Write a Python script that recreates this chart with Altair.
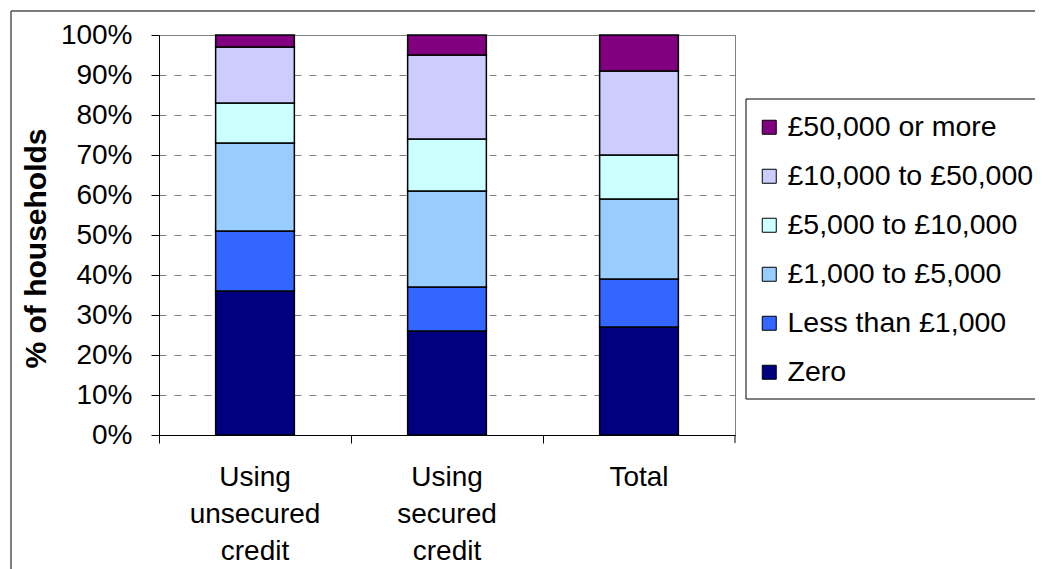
import altair as alt
import pandas as pd

categories = ["Using unsecured credit", "Using secured credit", "Total"]
bands = ["Zero", "Less than £1,000", "£1,000 to £5,000", "£5,000 to £10,000",
         "£10,000 to £50,000", "£50,000 or more"]
colors = ["#000080", "#3366FF", "#99CCFF", "#CCFFFF", "#CCCCFF", "#800080"]

zero = [36, 26, 27]
less_1k = [15, 11, 12]
k1_5 = [22, 24, 20]
k5_10 = [10, 13, 11]
k10_50 = [14, 21, 21]
k50_plus = [3, 5, 9]

series = [zero, less_1k, k1_5, k5_10, k10_50, k50_plus]
rows = []
for bi, (band, vals) in enumerate(zip(bands, series)):
    for ci, cat in enumerate(categories):
        rows.append({"category": cat, "band": band, "value": vals[ci], "order": bi})
df = pd.DataFrame(rows)

FONT = "Liberation Sans"
W, H = 576, 400

bars = alt.Chart(df).mark_bar(stroke="black", strokeWidth=1.5).encode(
    x=alt.X("category:N", sort=categories,
            scale=alt.Scale(paddingInner=0.59, paddingOuter=0.295),
            axis=alt.Axis(title=None, labelAngle=0, labelExpr="split(datum.label, ' ')",
                          labelFontSize=28, labelFont=FONT, labelColor="black",
                          labelLineHeight=37, labelPadding=20, labelBaseline="top",
                          tickSize=8, tickColor="black", bandPosition=-0.7195,
                          domainColor="black", grid=False)),
    y=alt.Y("value:Q", stack="zero",
            scale=alt.Scale(domain=[0, 100], nice=False),
            axis=alt.Axis(title="% of households", values=list(range(0, 101, 10)),
                          labelExpr="datum.value + '%'", labelFontSize=28, labelFont=FONT,
                          labelColor="black", labelPadding=19, tickSize=8, tickColor="black",
                          domainColor="black", grid=True, gridColor="#808080",
                          gridDash=[7, 8], gridWidth=1,
                          titleFont=FONT, titleFontSize=30, titleFontWeight="bold",
                          titleColor="black", titleX=-123, titleY=213,
                          titleAngle=270, titleBaseline="middle", titleAlign="center")),
    color=alt.Color("band:N", scale=alt.Scale(domain=bands[::-1], range=colors[::-1]),
                    legend=alt.Legend(title=None, orient="none", legendX=587, legendY=66,
                                      labelFont=FONT, labelFontSize=28.5, labelColor="black",
                                      labelLimit=500,
                                      symbolType="square", symbolSize=196,
                                      symbolStrokeColor="black", symbolStrokeWidth=1,
                                      labelOffset=4, rowPadding=20, padding=12,
                                      symbolOffset=-3)),
    order=alt.Order("order:Q", sort="ascending"),
)

one = alt.Data(values=[{"k": 1}])
right_tick = alt.Chart(one).mark_rule(color="black").encode(
    x=alt.value(W), y=alt.value(H), y2=alt.value(H + 8))
frame_left = alt.Chart(one).mark_rule(color="black", strokeWidth=1).encode(
    x=alt.value(-148), y=alt.value(-24), y2=alt.value(700))
frame_top = alt.Chart(one).mark_rule(color="#505050", strokeWidth=1.5).encode(
    x=alt.value(-148), x2=alt.value(1000), y=alt.value(-24))
# legend box (left, top, bottom edges; right edge lies beyond the page)
lg_left = alt.Chart(one).mark_rule(color="black").encode(
    x=alt.value(587), y=alt.value(64), y2=alt.value(364))
lg_top = alt.Chart(one).mark_rule(color="black").encode(
    x=alt.value(587), x2=alt.value(1000), y=alt.value(64))
lg_bottom = alt.Chart(one).mark_rule(color="black").encode(
    x=alt.value(587), x2=alt.value(1000), y=alt.value(364))

chart = alt.layer(frame_left, frame_top, lg_left, lg_top, lg_bottom, bars, right_tick).properties(
    width=W, height=H,
    autosize=alt.AutoSizeParams(type="none"),
    padding={"left": 151, "top": 27, "right": 300, "bottom": 134},
    background="white",
).configure_view(stroke="#808080", strokeWidth=1)

chart.save("out.html", embed_options={"renderer": "svg", "actions": False})
